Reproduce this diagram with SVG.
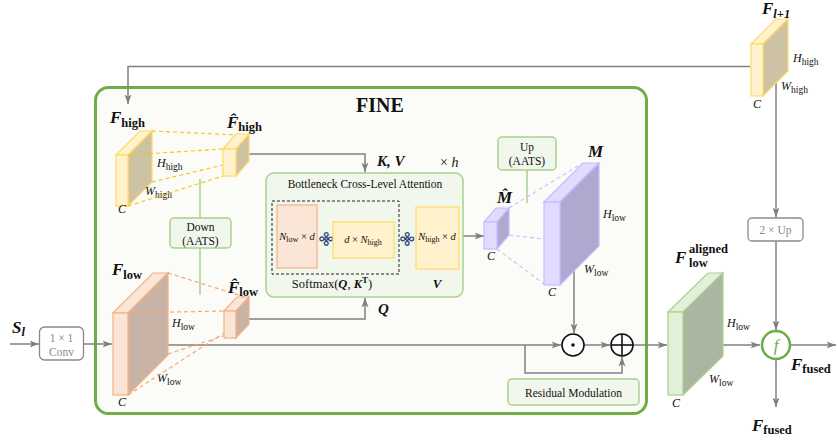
<svg xmlns="http://www.w3.org/2000/svg" width="838" height="441" viewBox="0 0 838 441">
<defs>
<marker id="ah" markerWidth="10" markerHeight="8" refX="9.5" refY="4" orient="auto" markerUnits="userSpaceOnUse">
<path d="M0,0.5 L9.5,4 L0,7.5 L2.5,4 z" fill="#7f7f7f"/>
</marker>
<style>
text{font-family:"Liberation Serif","DejaVu Serif",serif;fill:#111}
.con{fill:none;stroke:#808080;stroke-width:1.5}
.arr{marker-end:url(#ah)}
.gl{fill:none;stroke:#a9d18e;stroke-width:1.5}
.gbox{fill:#f1f7ec;stroke:#a9d18e;stroke-width:1.5}
.lbl{font-weight:bold;font-style:italic;font-size:17px}
.sub{font-weight:bold;font-style:normal;font-size:12.5px}
.isub{font-weight:bold;font-style:italic;font-size:12.5px}
.dim{font-style:italic;font-size:12px}
.dsub{font-style:normal;font-size:9.5px}
.bt{font-size:11.5px}
.ye-f{fill:#fff2cc;stroke:#ffd966;stroke-width:1.2}
.ye-s{fill:#cdc3a4;stroke:#ffd966;stroke-width:1.2}
.or-f{fill:#fbe5d6;stroke:#f4b183;stroke-width:1.2}
.or-s{fill:#c9b3a7;stroke:#f4b183;stroke-width:1.2}
.pu-f{fill:#e2dbff;stroke:#c8baff;stroke-width:1.2}
.pu-s{fill:#b1a8cf;stroke:#c8baff;stroke-width:1.2}
.gr-f{fill:#e2efd9;stroke:#a9d18e;stroke-width:1.2}
.gr-s{fill:#a9b6a0;stroke:#a9d18e;stroke-width:1.2}
.yd{stroke:#f5c400;stroke-width:1.1;stroke-dasharray:4,3;fill:none}
.od{stroke:#f4a46a;stroke-width:1.1;stroke-dasharray:4,3;fill:none}
.pd{stroke:#cbbcff;stroke-width:1.1;stroke-dasharray:4,3;fill:none}
.gray{fill:#8a8a8a}
.mul{font-family:"DejaVu Sans",sans-serif;font-size:15px;fill:#2e4a7a;font-weight:bold}
</style>
</defs>

<!-- FINE container -->
<g id="fine">
<rect x="95.5" y="87.5" width="551" height="326" rx="13" fill="#fbfbf8" stroke="#70ad47" stroke-width="3"/>
<text x="380" y="112" text-anchor="middle" font-size="20" font-weight="bold">FINE</text>
</g>

<!-- connectors -->
<g id="connectors">
<polyline class="con arr" points="750,66.5 128,66.5 128,104"/>
<polyline class="con arr" points="243,154 365,154 365,172"/>
<polyline class="con arr" points="243,319 365,319 365,298"/>
<line class="con arr" x1="10" y1="344" x2="39" y2="344"/>
<line class="con arr" x1="83" y1="344" x2="112" y2="344"/>
<line class="con arr" x1="157" y1="345" x2="561" y2="345"/>
<line class="con arr" x1="584" y1="345" x2="610" y2="345"/>
<line class="con arr" x1="633" y1="345" x2="667" y2="345"/>
<polyline class="con arr" points="525,345 525,373 622,373 622,357"/>
<line class="con arr" x1="574" y1="271" x2="574" y2="333"/>
<line class="con arr" x1="463" y1="236" x2="484" y2="236"/>
<line class="con arr" x1="776" y1="83" x2="776" y2="217"/>
<line class="con arr" x1="776" y1="241" x2="776" y2="330"/>
<line class="con arr" x1="703" y1="345" x2="760" y2="345"/>
<line class="con arr" x1="791" y1="345" x2="836" y2="345"/>
<line class="con arr" x1="776" y1="360" x2="776" y2="407"/>
<line class="gl" x1="200" y1="179" x2="200" y2="218"/>
<line class="gl" x1="200" y1="248" x2="200" y2="295"/>
<line class="gl" x1="527" y1="170" x2="527" y2="203"/>
</g>

<!-- F_{l+1} -->
<g id="f-l1">
<polygon class="ye-f" points="751,44 776,19 788,19 763,44"/>
<polygon class="ye-s" points="763,44 788,19 788,71 763,96"/>
<rect class="ye-f" x="751" y="44" width="12" height="52"/>
<text class="lbl" x="762" y="14">F<tspan class="isub" dy="4">l+1</tspan></text>
<text class="dim" x="793" y="62">H<tspan class="dsub" dy="3">high</tspan></text>
<text class="dim" x="781" y="90">W<tspan class="dsub" dy="3">high</tspan></text>
<text class="dim" x="753" y="108">C</text>
</g>

<!-- F_high -->
<g id="f-high">
<polygon class="ye-f" points="116,155 140,131 152,131 128,155"/>
<polygon class="ye-s" points="128,155 152,131 152,182 128,206"/>
<rect class="ye-f" x="116" y="155" width="12" height="51"/>
<text class="lbl" x="110" y="123">F<tspan class="sub" dy="4">high</tspan></text>
<text class="dim" x="157" y="167">H<tspan class="dsub" dy="3">high</tspan></text>
<text class="dim" x="145" y="195">W<tspan class="dsub" dy="3">high</tspan></text>
<text class="dim" x="118" y="213">C</text>
</g>
<g id="dash-high">
<line class="yd" x1="152" y1="131" x2="238" y2="135"/>
<line class="yd" x1="128" y1="155" x2="223" y2="149"/>
<line class="yd" x1="152" y1="182" x2="223" y2="165"/>
<line class="yd" x1="128" y1="206" x2="223" y2="176"/>
</g>
<g id="f-high-hat">
<polygon class="ye-f" points="223,149 236,134 249,134 236,149"/>
<polygon class="ye-s" points="236,149 249,134 249,161 236,176"/>
<rect class="ye-f" x="223" y="149" width="13" height="27"/>
<text class="lbl" x="227" y="128">F̂<tspan class="sub" dy="3">high</tspan></text>
</g>

<!-- Down AATS -->
<g id="down">
<rect class="gbox" x="170" y="218" width="61" height="30" rx="4"/>
<text class="bt" x="200.5" y="231" text-anchor="middle">Down</text>
<text class="bt" x="200.5" y="245" text-anchor="middle">(AATS)</text>
</g>

<!-- F_low -->
<g id="f-low">
<polygon class="or-f" points="113,313 153,273 168,273 128,313"/>
<polygon class="or-s" points="128,313 168,273 168,355 128,395"/>
<rect class="or-f" x="113" y="313" width="15" height="82"/>
<text class="lbl" x="112" y="275">F<tspan class="sub" dy="4">low</tspan></text>
<text class="dim" x="172" y="327">H<tspan class="dsub" dy="3">low</tspan></text>
<text class="dim" x="157" y="382">W<tspan class="dsub" dy="3">low</tspan></text>
<text class="dim" x="118" y="406">C</text>
</g>
<g id="dash-low">
<line class="od" x1="168" y1="273" x2="248" y2="298"/>
<line class="od" x1="128" y1="313" x2="224" y2="311"/>
<line class="od" x1="168" y1="354" x2="229" y2="334"/>
<line class="od" x1="128" y1="395" x2="224" y2="333"/>
</g>
<g id="f-low-hat">
<polygon class="or-f" points="224,311 237,297 249,297 236,311"/>
<polygon class="or-s" points="236,311 249,297 249,324 236,338"/>
<rect class="or-f" x="224" y="311" width="12" height="27"/>
<text class="lbl" x="228" y="293">F̂<tspan class="sub" dy="3">low</tspan></text>
</g>

<!-- S_l and conv -->
<g id="sl">
<text class="lbl" x="12" y="333">S<tspan class="isub" dy="3">l</tspan></text>
</g>
<g id="conv">
<rect x="39.5" y="327" width="44" height="33" rx="5" fill="#fff" stroke="#8a8a8a" stroke-width="1.3"/>
<text class="bt gray" x="61.5" y="342" text-anchor="middle">1 × 1</text>
<text class="bt gray" x="61.5" y="356" text-anchor="middle">Conv</text>
</g>

<!-- Bottleneck -->
<g id="bottleneck">
<rect x="266" y="173" width="197" height="124" rx="8" fill="#f1f7ec" stroke="#a9d18e" stroke-width="1.5"/>
<text x="365" y="188" text-anchor="middle" font-size="11.5">Bottleneck Cross-Level Attention</text>
<rect x="272" y="201" width="127" height="73" fill="none" stroke="#222" stroke-width="1" stroke-dasharray="3,2"/>
<rect class="or-f" x="277" y="205" width="40" height="63"/>
<text x="297" y="240" text-anchor="middle" font-size="10.5"><tspan font-style="italic">N</tspan><tspan font-size="8" dy="2">low</tspan><tspan dy="-2"> × </tspan><tspan font-style="italic">d</tspan></text>
<text class="mul" x="326" y="244.5" text-anchor="middle" transform="rotate(45 326 239)">⌘</text>
<rect class="ye-f" x="333" y="222" width="61" height="36"/>
<text x="363" y="243" text-anchor="middle" font-size="10.5"><tspan font-style="italic">d</tspan> × <tspan font-style="italic">N</tspan><tspan font-size="8" dy="2">high</tspan></text>
<text class="mul" x="407" y="244.5" text-anchor="middle" transform="rotate(45 407 239)">⌘</text>
<rect class="ye-f" x="416" y="207" width="43" height="62"/>
<text x="437" y="240" text-anchor="middle" font-size="10.5"><tspan font-style="italic">N</tspan><tspan font-size="8" dy="2">high</tspan><tspan dy="-2"> × </tspan><tspan font-style="italic">d</tspan></text>
<text x="332" y="288" text-anchor="middle" font-size="12.5">Softmax(<tspan font-weight="bold" font-style="italic">Q</tspan>, <tspan font-weight="bold" font-style="italic">K</tspan><tspan font-weight="bold" font-size="9" dy="-5">T</tspan><tspan dy="5">)</tspan></text>
<text x="437" y="288" text-anchor="middle" font-size="13" font-weight="bold" font-style="italic">V</text>
</g>
<g id="kv-labels">
<text x="377" y="166" font-size="15" font-weight="bold" font-style="italic">K, V</text>
<text x="440" y="167" font-size="14">× <tspan font-style="italic">h</tspan></text>
<text x="378" y="314" font-size="15" font-weight="bold" font-style="italic">Q</text>
</g>

<!-- Up AATS -->
<g id="up">
<rect class="gbox" x="498" y="137" width="58" height="33" rx="4"/>
<text class="bt" x="527" y="151" text-anchor="middle">Up</text>
<text class="bt" x="527" y="165" text-anchor="middle">(AATS)</text>
</g>

<!-- M hat -->
<g id="m-hat">
<line class="pd" x1="509" y1="208" x2="583" y2="163"/>
<line class="pd" x1="509" y1="235" x2="544" y2="239"/>
<line class="pd" x1="497" y1="249" x2="544" y2="284"/>
<polygon class="pu-f" points="484,222 496,208 509,208 497,222"/>
<polygon class="pu-s" points="497,222 509,208 509,235 497,249"/>
<rect class="pu-f" x="484" y="222" width="13" height="27"/>
<text class="lbl" x="497" y="203" font-size="15">M̂</text>
<text class="dim" x="487" y="260">C</text>
</g>

<!-- M -->
<g id="m">
<polygon class="pu-f" points="544,202 583,163 599,163 560,202"/>
<polygon class="pu-s" points="560,202 599,163 599,246 560,285"/>
<rect class="pu-f" x="544" y="202" width="16" height="83"/>
<text class="lbl" x="588" y="157" font-size="15">M</text>
<text class="dim" x="603" y="218">H<tspan class="dsub" dy="3">low</tspan></text>
<text class="dim" x="584" y="273">W<tspan class="dsub" dy="3">low</tspan></text>
<text class="dim" x="548" y="296">C</text>
</g>

<!-- operators -->
<g id="hadamard">
<circle cx="573" cy="345" r="11" fill="#fff" stroke="#111" stroke-width="1.6"/>
<circle cx="573" cy="345" r="1.8" fill="#111"/>
</g>
<g id="oplus">
<circle cx="622" cy="345" r="11" fill="#fff" stroke="#111" stroke-width="1.6"/>
<line x1="611" y1="345" x2="633" y2="345" stroke="#111" stroke-width="1.6"/>
<line x1="622" y1="334" x2="622" y2="356" stroke="#111" stroke-width="1.6"/>
</g>
<g id="residual">
<rect class="gbox" x="508" y="379" width="131" height="26" rx="4"/>
<text x="573.5" y="397" text-anchor="middle" font-size="11.5">Residual Modulation</text>
</g>

<!-- F aligned -->
<g id="f-aligned">
<polygon class="gr-f" points="668,312 708,273 723,273 683,312"/>
<polygon class="gr-s" points="683,312 723,273 723,356 683,395"/>
<rect class="gr-f" x="668" y="312" width="15" height="83"/>
<text class="lbl" x="675" y="263">F</text>
<text class="sub" x="689" y="253">aligned</text>
<text class="sub" x="689" y="267">low</text>
<text class="dim" x="727" y="327">H<tspan class="dsub" dy="3">low</tspan></text>
<text class="dim" x="709" y="383">W<tspan class="dsub" dy="3">low</tspan></text>
<text class="dim" x="672" y="407">C</text>
</g>

<!-- 2x Up -->
<g id="up2">
<rect x="748" y="218" width="55" height="23" rx="4" fill="#fff" stroke="#8a8a8a" stroke-width="1.3"/>
<text class="bt gray" x="775.5" y="234" text-anchor="middle">2 × Up</text>
</g>

<!-- fusion -->
<g id="fusion">
<circle cx="776" cy="345" r="14" fill="#fff" stroke="#70ad47" stroke-width="2.5"/>
<text x="776" y="351" text-anchor="middle" font-size="17" font-style="italic" style="fill:#70ad47">f</text>
</g>
<g id="fused-labels">
<text class="lbl" x="791" y="370">F<tspan class="sub" dy="3">fused</tspan></text>
<text class="lbl" x="752" y="431">F<tspan class="sub" dy="3">fused</tspan></text>
</g>
</svg>
